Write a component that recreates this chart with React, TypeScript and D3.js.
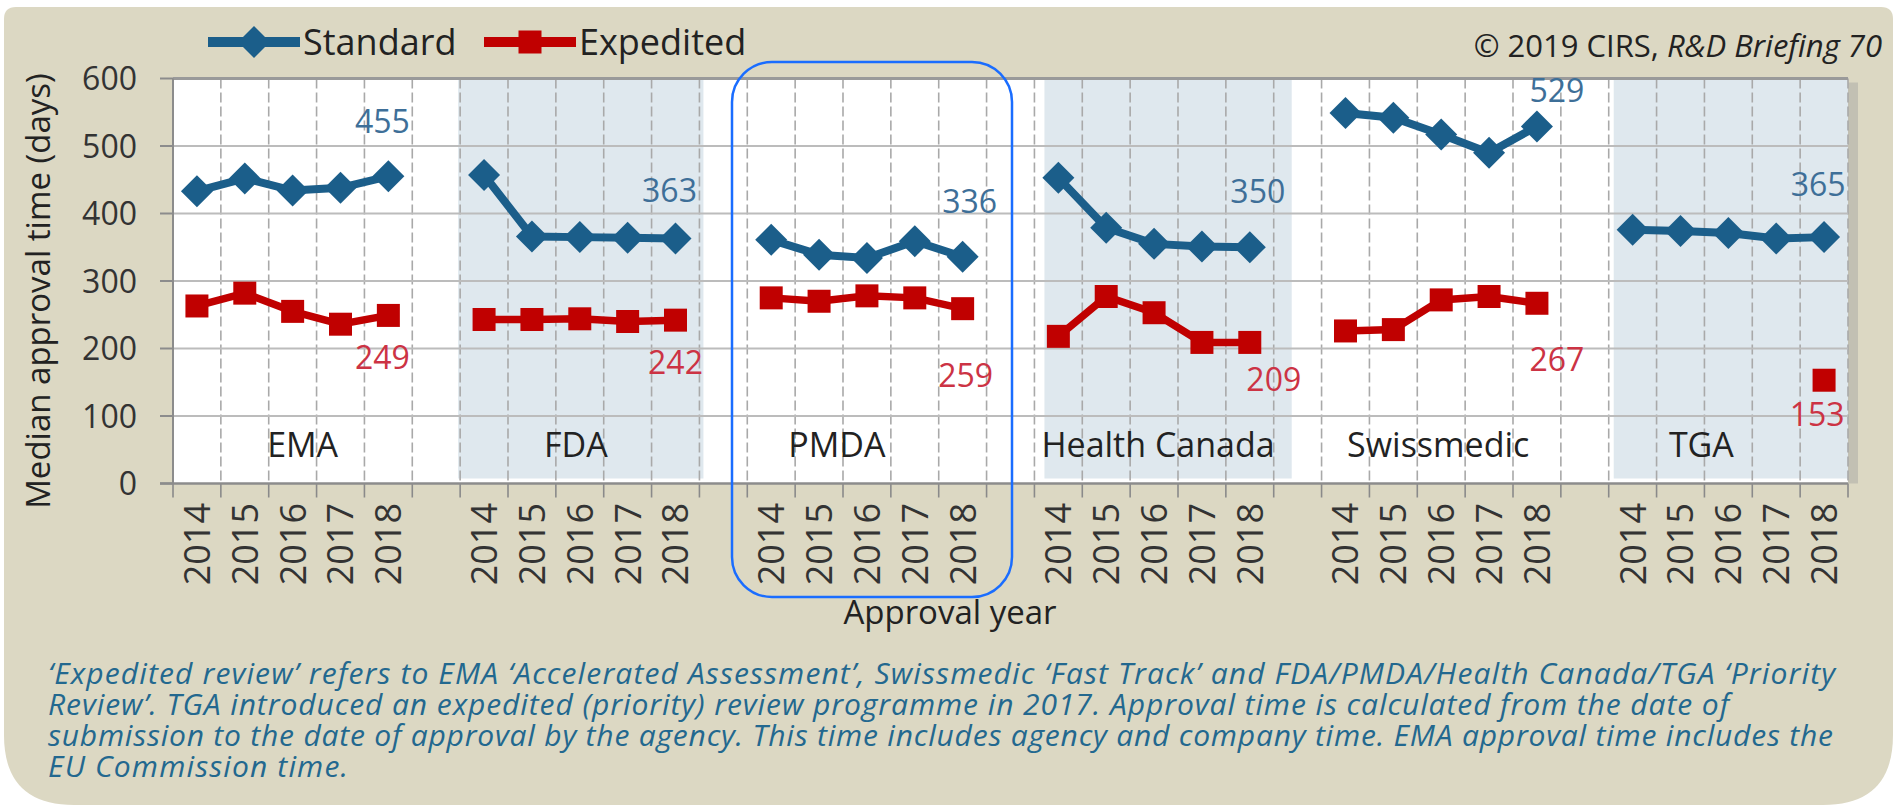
import { useEffect, useRef } from 'react'
import * as d3 from 'd3'

const groups = ['EMA', 'FDA', 'PMDA', 'Health Canada', 'Swissmedic', 'TGA']
const years = ['2014', '2015', '2016', '2017', '2018']
const standard = [
  [433, 452, 434, 438, 455],
  [457, 366, 365, 364, 363],
  [361, 339, 334, 359, 336],
  [453, 379, 355, 351, 350],
  [549, 542, 517, 490, 529],
  [376, 374, 371, 363, 365],
]
const expedited = [
  [263, 282, 255, 236, 249],
  [243, 243, 244, 240, 242],
  [275, 270, 278, 275, 259],
  [218, 277, 253, 209, 209],
  [226, 228, 272, 277, 267],
  [null, null, null, null, 153],
]
const shadedGroups = ['FDA', 'Health Canada', 'TGA']
const yTicks = [0, 100, 200, 300, 400, 500, 600]
const footnote = [
  '‘Expedited review’ refers to EMA ‘Accelerated Assessment’, Swissmedic ‘Fast Track’ and FDA/PMDA/Health Canada/TGA ‘Priority',
  'Review’. TGA introduced an expedited (priority) review programme in 2017. Approval time is calculated from the date of',
  'submission to the date of approval by the agency. This time includes agency and company time. EMA approval time includes the',
  'EU Commission time.',
]

// layout tweaks (pixels), kept apart from the data
const groupLabelDx = [10, -4, -30, 4, -3, -27]
const stdLabelOffset = [[-6, -43], [-6, -36], [7, -44], [8, -44], [20, -24], [-6, -41]]
const expLabelOffset = [[-6, 54], [0, 54], [3, 78], [24, 49], [20, 68], [-7, 46]]
const bandShift: Record<string, [number, number]> = { FDA: [-2, 4], 'Health Canada': [10, 18], TGA: [5, 0] }
const footnoteWidths = [1787, 1681, 1785, 300]

const W = 1899, H = 807
const STD = '#1b5e8a', EXP = '#c00000'

function roundedPath(x0: number, y0: number, x1: number, y1: number, rt: number, rb: number) {
  return `M${x0 + rt},${y0} H${x1 - rt} Q${x1},${y0} ${x1},${y0 + rt} V${y1 - rb} Q${x1},${y1} ${x1 - rb},${y1} H${x0 + rb} Q${x0},${y1} ${x0},${y1 - rb} V${y0 + rt} Q${x0},${y0} ${x0 + rt},${y0} Z`
}

export default function App() {
  const ref = useRef<SVGSVGElement>(null)

  useEffect(() => {
    if (!ref.current) return
    const svg = d3.select(ref.current)
    svg.selectAll('*').remove()

    const left = 173, right = 1848, top = 78.5, bottom = 483.5
    const slots = d3.range(groups.length * 6 - 1)
    const x = d3.scaleBand<number>().domain(slots).range([left, right]).padding(0)
    const bw = x.bandwidth()
    const slotOf = (g: number, i: number) => g * 6 + i
    const cx = (g: number, i: number) => (x(slotOf(g, i)) as number) + bw / 2
    const y = d3.scaleLinear().domain([0, 600]).range([bottom, top])

    // background panel
    svg.append('path')
      .attr('d', roundedPath(4, 7, 1893, 805, 12, 70))
      .attr('fill', '#dcd8c3')

    // plot area
    svg.append('rect').attr('x', right).attr('y', top + 4).attr('width', 10).attr('height', bottom - top - 4)
      .attr('fill', '#c2c0b3')
    svg.append('rect').attr('x', left).attr('y', top).attr('width', right - left).attr('height', bottom - top)
      .attr('fill', '#ffffff')

    groups.forEach((g, gi) => {
      if (!shadedGroups.includes(g)) return
      const [s0, s1] = bandShift[g]
      const x0 = x(slotOf(gi, 0)) as number
      const x1 = (x(slotOf(gi, 4)) as number) + bw
      svg.append('rect')
        .attr('x', x0 + s0).attr('y', top)
        .attr('width', x1 - x0 + s1 - s0).attr('height', bottom - top - 5)
        .attr('fill', '#dfe8ee')
    })

    // vertical dashed gridlines + ticks
    const bounds = d3.range(slots.length + 1).map(i => left + i * bw)
    svg.append('g').selectAll('line').data(bounds.slice(1)).join('line')
      .attr('x1', d => d).attr('x2', d => d).attr('y1', top).attr('y2', bottom)
      .attr('stroke', '#a9a9a9').attr('stroke-width', 1.6).attr('stroke-dasharray', '10,4')
    svg.append('g').selectAll('line').data(bounds).join('line')
      .attr('x1', d => d).attr('x2', d => d).attr('y1', bottom).attr('y2', bottom + 14)
      .attr('stroke', '#8a8a8a').attr('stroke-width', 1.6)

    // horizontal gridlines
    svg.append('g').selectAll('line').data(yTicks.slice(1)).join('line')
      .attr('x1', left).attr('x2', right).attr('y1', d => y(d)).attr('y2', d => y(d))
      .attr('stroke', d => d === 600 ? '#9a9a9a' : '#bcbcbc').attr('stroke-width', d => d === 600 ? 3 : 2)

    // axes
    svg.append('line').attr('x1', left).attr('x2', left).attr('y1', top).attr('y2', bottom)
      .attr('stroke', '#8c8c8c').attr('stroke-width', 2)
    svg.append('line').attr('x1', left - 13).attr('x2', right).attr('y1', bottom).attr('y2', bottom)
      .attr('stroke', '#8c8c8c').attr('stroke-width', 2.5)
    svg.append('g').selectAll('line').data(yTicks).join('line')
      .attr('x1', left - 13).attr('x2', left).attr('y1', d => y(d)).attr('y2', d => y(d))
      .attr('stroke', '#8c8c8c').attr('stroke-width', 2)
    svg.append('g').selectAll('text').data(yTicks).join('text')
      .attr('x', 137).attr('y', d => y(d)).attr('dy', '0.36em')
      .attr('text-anchor', 'end').attr('font-size', 32).attr('fill', '#333')
      .text(d => d)

    svg.append('text')
      .attr('transform', `translate(38,${(top + bottom) / 2 + 10}) rotate(-90)`)
      .attr('dy', '0.35em').attr('text-anchor', 'middle')
      .attr('font-size', 33).attr('fill', '#222')
      .text('Median approval time (days)')

    // year labels
    groups.forEach((g, gi) => {
      svg.append('g').selectAll('text').data(years).join('text')
        .attr('transform', (d, i) => `translate(${cx(gi, i)},503) rotate(-90)`)
        .attr('dy', '0.36em').attr('text-anchor', 'end')
        .attr('font-size', 36).attr('fill', '#333')
        .text(d => d)
    })

    svg.append('text')
      .attr('x', 950).attr('y', 624).attr('text-anchor', 'middle')
      .attr('font-size', 33).attr('fill', '#222')
      .text('Approval year')

    // group labels
    groups.forEach((g, gi) => {
      svg.append('text')
        .attr('x', (cx(gi, 0) + cx(gi, 4)) / 2 + groupLabelDx[gi]).attr('y', 457)
        .attr('text-anchor', 'middle').attr('font-size', 34).attr('fill', '#222')
        .text(g)
    })

    const diamond = d3.symbol(d3.symbolSquare, 512)()
    const square = d3.symbol(d3.symbolSquare, 529)()
    const line = d3.line<{ x: number; v: number | null }>()
      .defined(d => d.v != null)
      .x(d => d.x).y(d => y(d.v as number))

    groups.forEach((g, gi) => {
      const std = standard[gi].map((v, i) => ({ x: cx(gi, i), v }))
      const exp = expedited[gi].map((v, i) => ({ x: cx(gi, i), v }))

      svg.append('path').datum(std).attr('d', line)
        .attr('fill', 'none').attr('stroke', STD).attr('stroke-width', 8)
      svg.append('g').selectAll('path').data(std).join('path')
        .attr('d', diamond)
        .attr('transform', d => `translate(${d.x},${y(d.v)}) rotate(45)`)
        .attr('fill', STD)

      svg.append('path').datum(exp).attr('d', line)
        .attr('fill', 'none').attr('stroke', EXP).attr('stroke-width', 7.5)
      svg.append('g').selectAll('path').data(exp.filter(d => d.v != null)).join('path')
        .attr('d', square)
        .attr('transform', d => `translate(${d.x},${y(d.v as number)})`)
        .attr('fill', EXP)

      const ls = std[std.length - 1]
      svg.append('text')
        .attr('x', ls.x + stdLabelOffset[gi][0]).attr('y', y(ls.v) + stdLabelOffset[gi][1])
        .attr('text-anchor', 'middle').attr('font-size', 32).attr('fill', '#3e6f98')
        .text(ls.v)
      const le = exp[exp.length - 1]
      svg.append('text')
        .attr('x', le.x + expLabelOffset[gi][0]).attr('y', y(le.v as number) + expLabelOffset[gi][1])
        .attr('text-anchor', 'middle').attr('font-size', 32).attr('fill', '#cc3344')
        .text(le.v as number)
    })

    // legend
    const legend = [
      { label: 'Standard', color: STD, marker: diamond, rot: 45, x0: 208 },
      { label: 'Expedited', color: EXP, marker: square, rot: 0, x0: 484 },
    ]
    legend.forEach(l => {
      svg.append('line').attr('x1', l.x0).attr('x2', l.x0 + 92).attr('y1', 42).attr('y2', 42)
        .attr('stroke', l.color).attr('stroke-width', 10)
      svg.append('path').attr('d', l.marker)
        .attr('transform', `translate(${l.x0 + 46},42) rotate(${l.rot})`).attr('fill', l.color)
      svg.append('text').attr('x', l.x0 + 95).attr('y', 55)
        .attr('font-size', 36).attr('fill', '#222').text(l.label)
    })

    const copy = svg.append('text').attr('x', 1882).attr('y', 57)
      .attr('text-anchor', 'end').attr('font-size', 31).attr('fill', '#222')
    copy.append('tspan').text('© 2019 CIRS, ')
    copy.append('tspan').attr('font-style', 'italic').text('R&D Briefing 70')

    // footnote
    svg.append('g').selectAll('text').data(footnote).join('text')
      .attr('x', 48).attr('y', (d, i) => 684 + i * 31)
      .attr('textLength', (d, i) => footnoteWidths[i]).attr('lengthAdjust', 'spacing')
      .attr('font-size', 30).attr('font-style', 'italic').attr('fill', '#23688f')
      .text(d => d)

    // PMDA highlight box
    svg.append('rect')
      .attr('x', 732).attr('y', 62).attr('width', 280).attr('height', 535).attr('rx', 40)
      .attr('fill', 'none').attr('stroke', '#1a6dff').attr('stroke-width', 2.5)
  }, [])

  return (
    <svg ref={ref} width={W} height={H}
      style={{ position: 'absolute', left: 0, top: 0, fontFamily: '"Open Sans", sans-serif', background: '#fff' }} />
  )
}
